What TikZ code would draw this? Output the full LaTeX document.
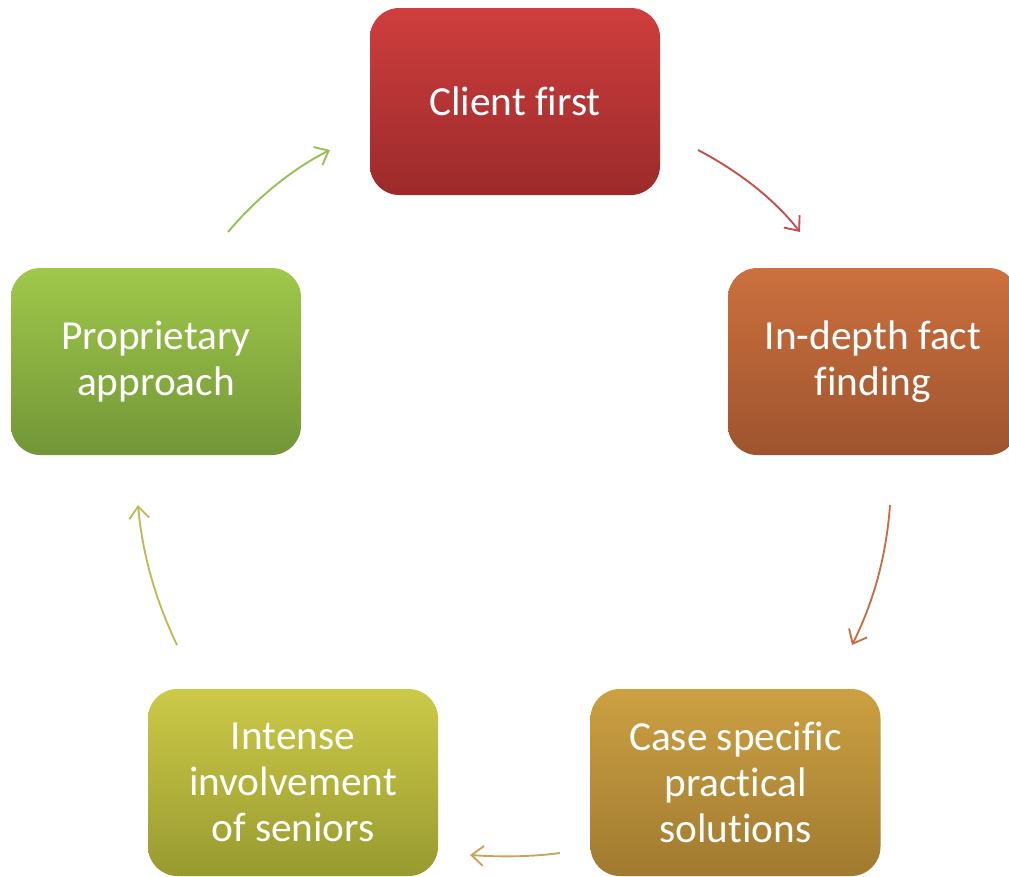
\documentclass[tikz,border=0pt]{standalone}
\usepackage{fontspec}
\setmainfont{Carlito}[Ligatures=NoCommon]
\usetikzlibrary{arrows.meta}
\definecolor{redT}{RGB}{207,62,62}
\definecolor{redB}{RGB}{156,42,42}
\definecolor{oraT}{RGB}{204,112,62}
\definecolor{oraB}{RGB}{158,84,46}
\definecolor{golT}{RGB}{204,160,66}
\definecolor{golB}{RGB}{160,122,48}
\definecolor{oliT}{RGB}{204,202,72}
\definecolor{oliB}{RGB}{152,154,48}
\definecolor{grnT}{RGB}{160,200,74}
\definecolor{grnB}{RGB}{114,150,56}
\definecolor{redA}{RGB}{196,78,78}
\definecolor{oraA}{RGB}{198,110,70}
\definecolor{golA}{RGB}{202,164,90}
\definecolor{oliA}{RGB}{190,186,84}
\definecolor{grnA}{RGB}{152,190,84}
\begin{document}
\begin{tikzpicture}[x=0.75pt,y=-0.75pt,
  box/.style={rounded corners=22pt, minimum width=217.5pt, minimum height=140.25pt,
    align=center, text=white, inner sep=0pt,
    font=\fontsize{31}{34.5}\selectfont},
  cyc/.style={line width=1.4pt, -{Straight Barb[length=9pt,width=15pt,line width=1.4pt]}}]
\useasboundingbox (0,0) rectangle (1009,876);
\clip (0,0) rectangle (1009,876);
\node[box, top color=redT, bottom color=redB] (c1) at (515,101.5) {Client first};
\node[box, top color=oraT, bottom color=oraB] (c2) at (873,361.5) {In-depth fact\\finding};
\node[box, top color=golT, bottom color=golB] (c3) at (735.5,782.5) {Case specific\\practical\\solutions};
\node[box, top color=oliT, bottom color=oliB] (c4) at (293,782.5) {Intense\\involvement\\of seniors};
\node[box, top color=grnT, bottom color=grnB] (c5) at (156,361.5) {Proprietary\\approach};
\coordinate (a1s) at (698,150);  \coordinate (a1e) at (800,232);
\coordinate (a2s) at (890,505);  \coordinate (a2e) at (852,645);
\coordinate (a3s) at (560,853);  \coordinate (a3e) at (470,855);
\coordinate (a4s) at (177,645);  \coordinate (a4e) at (138,505);
\coordinate (a5s) at (228,232);  \coordinate (a5e) at (330,150);
\draw[cyc, redA] (a1s) .. controls (740,172) and (775,200) .. (a1e);
\draw[cyc, oraA] (a2s) .. controls (886,560) and (872,605) .. (a2e);
\draw[cyc, golA] (a3s) .. controls (530,857) and (500,857) .. (a3e);
\draw[cyc, oliA] (a4s) .. controls (158,605) and (143,560) .. (a4e);
\draw[cyc, grnA] (a5s) .. controls (255,200) and (290,170) .. (a5e);
\end{tikzpicture}
\end{document}
